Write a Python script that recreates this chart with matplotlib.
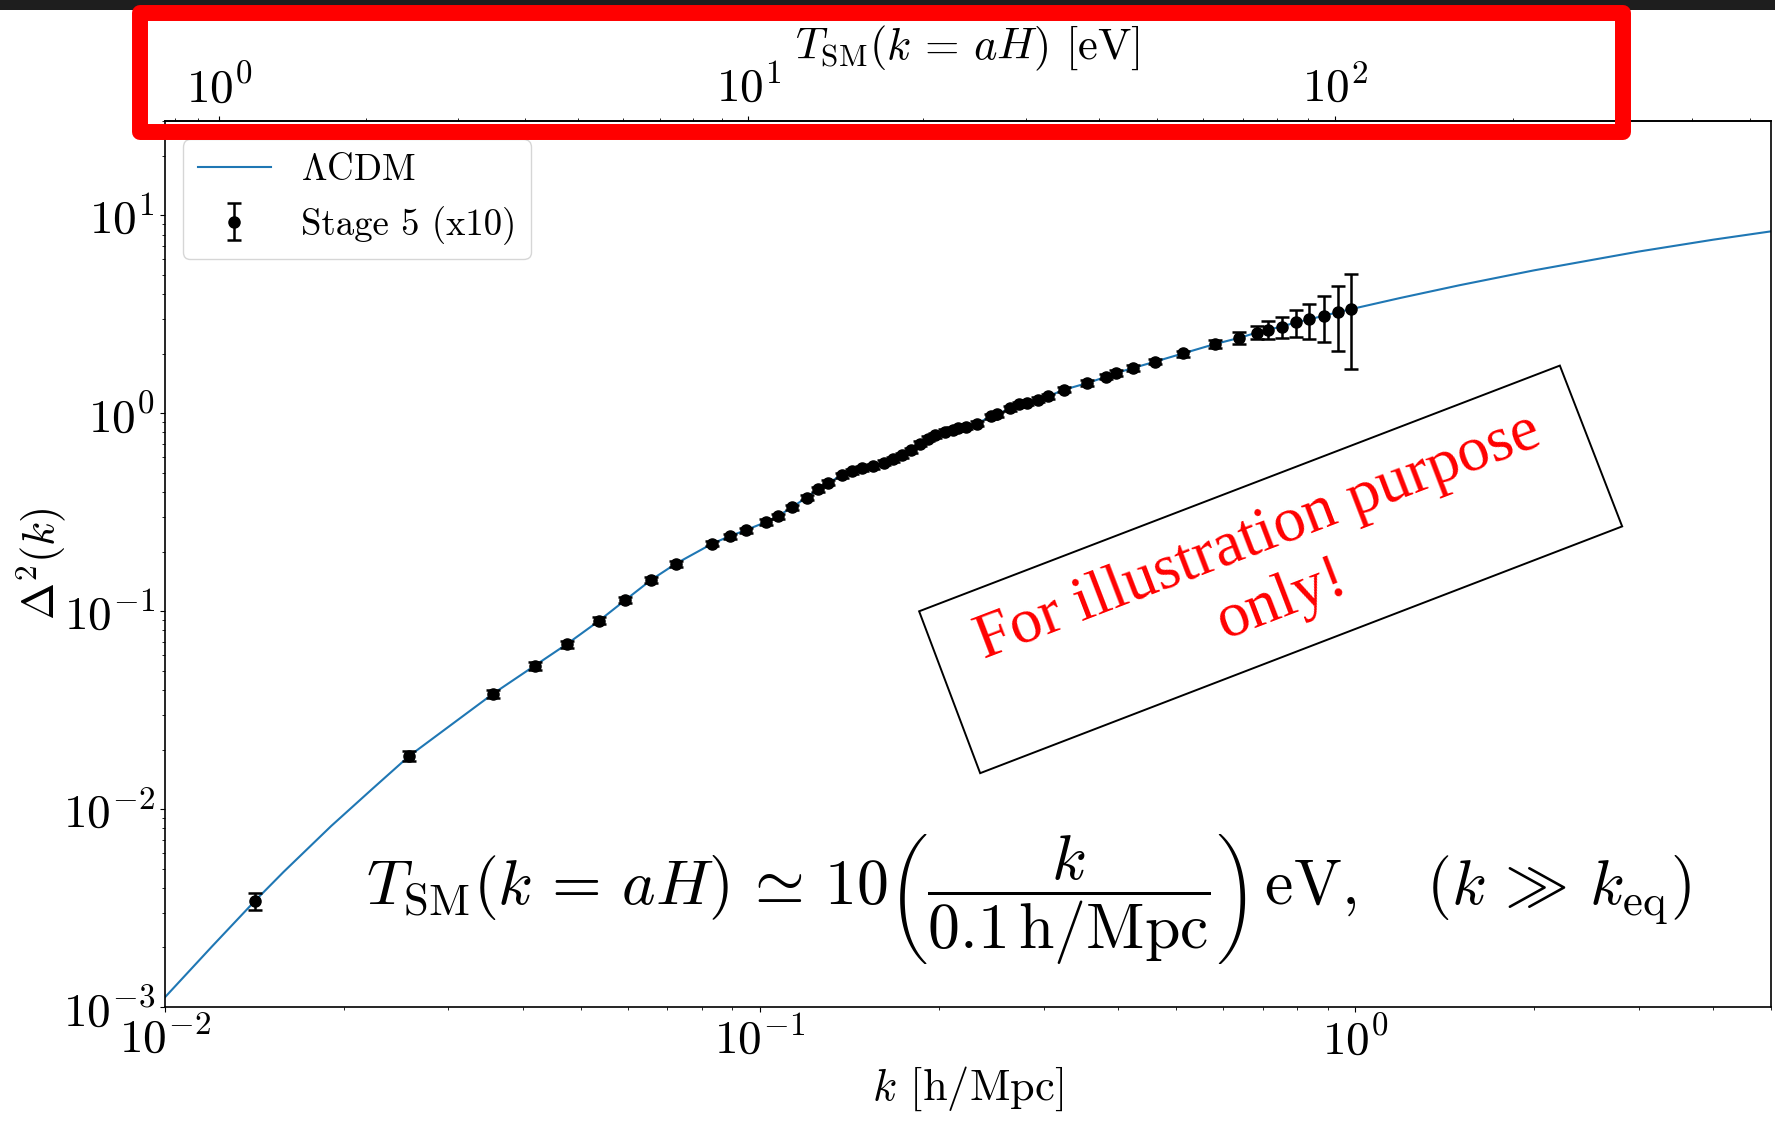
import numpy as np
import matplotlib
matplotlib.use('Agg')
import matplotlib.pyplot as plt
from matplotlib.patches import Polygon, Rectangle

# Stage 5 mock points (x10 errors)
k_data = [0.01417, 0.02577, 0.03561, 0.04188, 0.04745, 0.05372, 0.05946, 0.06579, 0.07233, 0.08327,
	0.08908, 0.09469, 0.1025, 0.1073, 0.1133, 0.1199, 0.1253, 0.1305, 0.1373, 0.1428,
	0.1487, 0.1552, 0.1616, 0.1673, 0.1732, 0.1794, 0.1860, 0.1920, 0.1971, 0.2049,
	0.2111, 0.2157, 0.2222, 0.2316, 0.2447, 0.2508, 0.2638, 0.2732, 0.2809, 0.2940,
	0.3055, 0.3246, 0.3555, 0.3823, 0.3977, 0.4244, 0.4623, 0.5140, 0.5815, 0.6401,
	0.6843, 0.7161, 0.7536, 0.7965, 0.8385, 0.8865, 0.9382, 0.9870]
d2_data = [0.003423, 0.01855, 0.03819, 0.05304, 0.06826, 0.08944, 0.1138, 0.1443, 0.1739, 0.2195,
	0.2394, 0.2564, 0.2823, 0.3017, 0.3350, 0.3753, 0.4137, 0.4457, 0.4851, 0.5105,
	0.5268, 0.5410, 0.5622, 0.5848, 0.6147, 0.6492, 0.7010, 0.7428, 0.7727, 0.8077,
	0.8248, 0.8382, 0.8540, 0.8863, 0.9636, 0.9863, 1.061, 1.108, 1.131, 1.171,
	1.219, 1.315, 1.422, 1.530, 1.599, 1.694, 1.825, 2.005, 2.236, 2.406,
	2.556, 2.646, 2.743, 2.880, 2.982, 3.110, 3.243, 3.362]
rel_err = [0.10, 0.055, 0.05, 0.045, 0.04, 0.04, 0.035, 0.035, 0.035, 0.03,
	0.03, 0.03, 0.03, 0.03, 0.03, 0.03, 0.03, 0.03, 0.03, 0.03,
	0.03, 0.03, 0.03, 0.03, 0.03, 0.03, 0.03, 0.03, 0.03, 0.03,
	0.03, 0.03, 0.03, 0.03, 0.03, 0.03, 0.03, 0.03, 0.03, 0.03,
	0.03, 0.03, 0.03, 0.03, 0.03, 0.03, 0.03, 0.035, 0.047, 0.065,
	0.076, 0.10, 0.12, 0.155, 0.20, 0.265, 0.36, 0.50]

# LCDM curve
k_lcdm = [0.01, 0.01202, 0.01417, 0.01585, 0.01905, 0.02239, 0.02577, 0.03561, 0.04188,
	0.04745, 0.05372, 0.05946, 0.06579, 0.07233, 0.08327, 0.08908, 0.09469, 0.1025, 0.1073,
	0.1133, 0.1199, 0.1253, 0.1305, 0.1373, 0.1428, 0.1487, 0.1552, 0.1616, 0.1673,
	0.1732, 0.1794, 0.1860, 0.1920, 0.1971, 0.2049, 0.2111, 0.2157, 0.2222, 0.2316,
	0.2447, 0.2508, 0.2638, 0.2732, 0.2809, 0.2940, 0.3055, 0.3246, 0.3555, 0.3823,
	0.3977, 0.4244, 0.4623, 0.5140, 0.5815, 0.6401, 0.6843, 0.7161, 0.7536, 0.7965,
	0.8385, 0.8865, 0.9382, 0.9870, 1.191, 1.5, 2.0, 3.0, 4.0, 5.0]
d2_lcdm = [0.001114, 0.002025, 0.003423, 0.004815, 0.008206, 0.01272, 0.01855, 0.03819, 0.05304,
	0.06826, 0.08944, 0.1138, 0.1443, 0.1739, 0.2195, 0.2394, 0.2564, 0.2823, 0.3017,
	0.3350, 0.3753, 0.4137, 0.4457, 0.4851, 0.5105, 0.5268, 0.5410, 0.5622, 0.5848,
	0.6147, 0.6492, 0.7010, 0.7428, 0.7727, 0.8077, 0.8248, 0.8382, 0.8540, 0.8863,
	0.9636, 0.9863, 1.061, 1.108, 1.131, 1.171, 1.219, 1.315, 1.422, 1.530,
	1.599, 1.694, 1.825, 2.005, 2.236, 2.406, 2.556, 2.646, 2.743, 2.880,
	2.982, 3.110, 3.243, 3.362, 3.822, 4.437, 5.274, 6.565, 7.534, 8.30]

# k = aH  <->  T_SM  (radiation + matter)
c_kT = 0.009216
b_eq = 0.793

def k_to_T(k):
	x = np.maximum(np.asarray(k, dtype=float), 1e-12) / c_kT
	return 0.5 * (-b_eq + np.sqrt(b_eq**2 + 4 * x**2))

def T_to_k(T):
	T = np.maximum(np.asarray(T, dtype=float), 1e-12)
	return c_kT * np.sqrt(T**2 + b_eq * T)

plt.rcParams['font.family'] = 'serif'
plt.rcParams['font.serif'] = ['cmr10']
plt.rcParams['mathtext.fontset'] = 'cm'
plt.rcParams['axes.formatter.use_mathtext'] = True

fig = plt.figure(figsize=(17.75, 11.22), dpi=100)
ax = fig.add_axes([0.0927, 0.1025, 0.9049, 0.7897])

ax.plot(k_lcdm, d2_lcdm, color='C0', lw=1.5, label=r'$\Lambda$CDM')
yerr = np.array(rel_err) * np.array(d2_data)
ax.errorbar(k_data, d2_data, yerr=yerr, fmt='o', color='k', ms=8, capsize=5,
	elinewidth=1.8, capthick=1.8, label='Stage 5 (x10)', zorder=3)

ax.set_xscale('log')
ax.set_yscale('log')
ax.set_xlim(0.01, 5)
ax.set_ylim(1e-3, 30)
ax.set_xlabel(r'$k$ [h/Mpc]', fontsize=32, labelpad=1)
ax.set_ylabel(r'$\Delta^2(k)$', fontsize=32, labelpad=-4)
ax.tick_params(labelsize=34)
for s in ax.spines.values():
	s.set_linewidth(1.2)
ax.legend(loc='upper left', fontsize=26.5)

secax = ax.secondary_xaxis('top', functions=(k_to_T, T_to_k))
secax.set_xlabel(r'$T_{\rm SM}(k\,=\,aH)$ [eV]', fontsize=32)
secax.tick_params(labelsize=34)
secax.spines['top'].set_linewidth(1.2)

ax.text(0.5375, 0.1219,
	r'$T_{\rm SM}(k\,=\,aH) \,\simeq\, 10\left(\dfrac{k}{0.1\,{\rm h/Mpc}}\right)\,{\rm eV},\quad (k\,\gg\,k_{\rm eq})$',
	transform=ax.transAxes, fontsize=46, ha='center', va='center')

# "for illustration" stamp
box = Polygon([(0.4698, 0.4466), (0.8687, 0.7239), (0.9075, 0.5424), (0.5078, 0.2639)],
	closed=True, transform=ax.transAxes, fill=False, ec='black', lw=1.4)
ax.add_patch(box)
ax.text(0.6885, 0.4942, 'For illustration purpose\nonly!', transform=ax.transAxes,
	rotation=21, rotation_mode='anchor', ha='center', va='center', multialignment='center',
	color='red', fontsize=46, family='Liberation Serif')

# screenshot frame on top
fig.add_artist(Rectangle((0, 1 - 10 / 1122), 1, 10 / 1122, transform=fig.transFigure,
	color='#1e1e1e', lw=0))
fig.add_artist(Rectangle((140 / 1775, 1 - 131.5 / 1122), 1482.5 / 1775, 118.5 / 1122,
	transform=fig.transFigure, fill=False, ec='#ff0000', lw=11.5, joinstyle='round'))

fig.savefig('out.png', dpi=100)
